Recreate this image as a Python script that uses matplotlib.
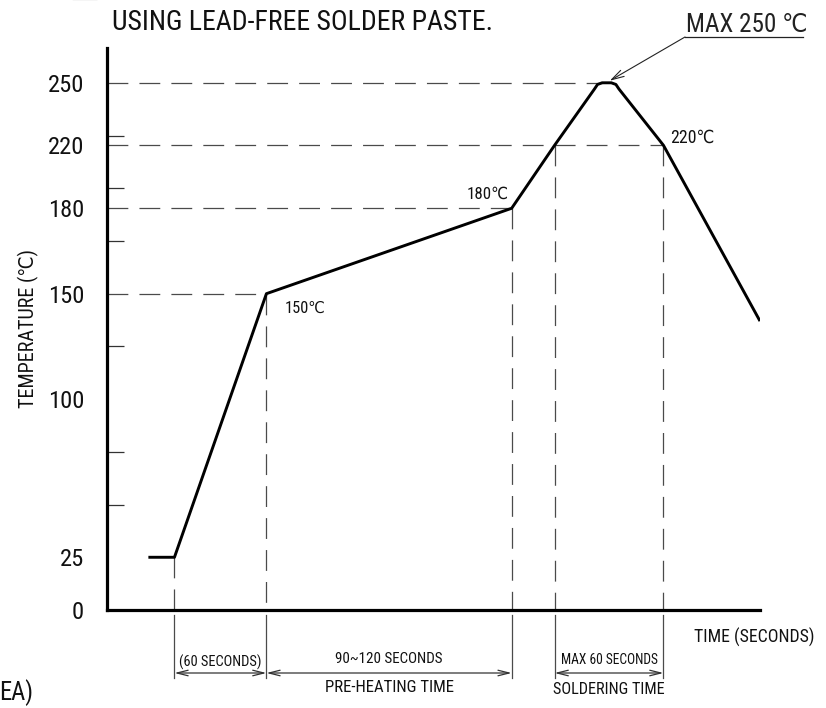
import numpy as np
import matplotlib
matplotlib.use("Agg")
import matplotlib.pyplot as plt
from matplotlib import font_manager as fm
from matplotlib import transforms
from matplotlib.patches import FancyBboxPatch

# ---------------- data ----------------
time_s = [27, 44, 104, 264, 292, 318, 320, 323, 329, 332, 334, 363, 426]
temp_c = [25, 25, 150, 180, 220, 247, 249.2, 250, 250, 249.2, 247, 220, 137]
ytick_values = [0, 25, 100, 150, 180, 220, 250]
ytick_labels = ["0", "25", "100", "150", "180", "220", "250"]
point_labels = ["150℃", "180℃", "220℃"]
title_text = "USING LEAD-FREE SOLDER PASTE."
peak_text = "MAX 250 ℃"
ylabel_text = "TEMPERATURE (℃)"
xlabel_text = "TIME (SECONDS)"
span_top = ["(60 SECONDS)", "90~120 SECONDS", "MAX 60 SECONDS"]
span_bottom = ["PRE-HEATING TIME", "SOLDERING TIME"]

# indices of key profile points
I_RAMP, I_150, I_180, I_220UP, I_PEAK, I_220DN = 1, 2, 3, 4, 7, 11

# ---------------- fonts ----------------
avail = {f.name for f in fm.fontManager.ttflist}
narrow = None
for cand in ["Liberation Sans Narrow", "Roboto Condensed", "Open Sans Condensed"]:
    if cand in avail:
        narrow = cand
        break
FAMILY = [narrow, "DejaVu Sans"] if narrow else ["DejaVu Sans"]
plt.rcParams["font.family"] = FAMILY
plt.rcParams["font.stretch"] = "condensed"
plt.rcParams["lines.scale_dashes"] = False
GROW = 1.1  # compromise between reference width and (taller) reference glyph height

W, H = 826, 708
fig = plt.figure(figsize=(W / 100, H / 100), dpi=100)
AX_L, AX_R, AX_B, AX_T = 107, 760, 610, 48  # pixel frame (top-origin)
ax = fig.add_axes([AX_L / W, (H - AX_B) / H, (AX_R - AX_L) / W, (AX_B - AX_T) / H])

# schematic (non-linear) temperature scale of the drawing
T_ANCHOR = [-100, 0, 150, 180, 220, 250, 400]
P_ANCHOR = [-4, 0, 6, 7.62, 8.815, 10, 15.925]
fwd = lambda t: np.interp(t, T_ANCHOR, P_ANCHOR)
inv = lambda p: np.interp(p, P_ANCHOR, T_ANCHOR)
ax.set_yscale("function", functions=(fwd, inv))
ax.set_ylim(0, float(inv(10.66)))
ax.set_xlim(0, 426)

for s in ["top", "right"]:
    ax.spines[s].set_visible(False)
for s in ["left", "bottom"]:
    ax.spines[s].set_linewidth(2.3)
    ax.spines[s].set_color("black")
    ax.spines[s].set_capstyle("projecting")
ax.set_xticks([])
ax.set_yticks(ytick_values)
ax.set_yticklabels(ytick_labels)
ax.set_yticks(inv(np.arange(1, 10)), minor=True)
ax.tick_params(axis="y", which="major", length=0, pad=16.5, labelsize=17, labelcolor="#111")
ax.tick_params(axis="y", which="minor", direction="in", length=12, width=0.9, color="#333")
ax.yaxis.set_minor_formatter(plt.NullFormatter())

GRAY = "#4a4a4a"
DASH = (0, (15, 8))
# horizontal reference lines
for i in [I_150, I_180, I_220DN, I_PEAK]:
    ax.plot([0, time_s[i]], [temp_c[i], temp_c[i]], color=GRAY, lw=0.9, linestyle=DASH)
# vertical reference lines
VERT = [I_RAMP, I_150, I_180, I_220UP, I_220DN]
for i in VERT:
    ax.plot([time_s[i], time_s[i]], [temp_c[i], 0], color=GRAY, lw=0.9, linestyle=DASH)

# profile
ax.plot(time_s, temp_c, color="black", lw=2.1, solid_joinstyle="round", solid_capstyle="butt")

# ---- below-axis dimensioning ----
bt = transforms.blended_transform_factory(ax.transData, ax.transAxes)
ay = lambda px: (AX_B - px) / (AX_B - AX_T)
for i in VERT:
    ax.plot([time_s[i], time_s[i]], [ay(615), ay(678)], transform=bt, color=GRAY, lw=0.9, clip_on=False)

spans = [(I_RAMP, I_150), (I_150, I_180), (I_220UP, I_220DN)]
for (a, b) in spans:
    ax.annotate("", xy=(time_s[b], ay(673)), xycoords=bt, xytext=(time_s[a], ay(673)), textcoords=bt,
                arrowprops=dict(arrowstyle="<->,head_length=0.8,head_width=0.2", lw=0.9, color="#333",
                                shrinkA=0, shrinkB=0), annotation_clip=False)

texts = []  # (text obj, target width px, grow factor)
top_y = [662, 659, 660]
for (a, b), lab, yy, wt in zip(spans, span_top, top_y, [75, 98, 89]):
    t = ax.text((time_s[a] + time_s[b]) / 2, ay(yy), lab, transform=bt, ha="center", va="center",
                fontsize=9, color="#111", clip_on=False)
    texts.append((t, wt, GROW))
for (a, b), lab, yy, wt in zip([spans[1], spans[2]], span_bottom, [688, 690], [118, 102]):
    t = ax.text((time_s[a] + time_s[b]) / 2, ay(yy), lab, transform=bt, ha="center", va="center",
                fontsize=10, color="#111", clip_on=False)
    texts.append((t, wt, GROW))

t = fig.text(754 / W, (H - 637) / H, xlabel_text, ha="center", va="center", fontsize=11, color="#111")
texts.append((t, 114, 1.05))

# point labels
lab_specs = [(I_150, (18, -15), "left"), (I_180, (-3, 14), "right"), (I_220DN, (7, 8), "left")]
for (i, (dx, dy), ha), lab, wt in zip(lab_specs, point_labels, [37, 38, 40]):
    t = ax.annotate(lab, xy=(time_s[i], temp_c[i]), xytext=(dx * 0.72, dy * 0.72), textcoords="offset points",
                    ha=ha, va="center", fontsize=11, color="#111")
    texts.append((t, wt, GROW))

# title
t = fig.text(302 / W, (H - 22) / H, title_text, ha="center", va="center", fontsize=18, color="#111")
texts.append((t, 345, GROW))

# peak callout
t = fig.text(747 / W, (H - 32) / H, peak_text, ha="center", va="baseline", fontsize=16, color="#222")
texts.append((t, 111, GROW))
fig.add_artist(plt.Line2D([685 / W, 803 / W], [(H - 37) / H, (H - 37) / H], color="#222", lw=0.9))
ax.annotate("", xy=(time_s[I_PEAK] + 5, 251), xycoords="data", xytext=(685, H - 37), textcoords="figure pixels",
            arrowprops=dict(arrowstyle="->,head_length=0.9,head_width=0.25", lw=0.8, color="#222",
                            shrinkA=0, shrinkB=0), annotation_clip=False)

# y label
t = fig.text(28 / W, (H - 329) / H, ylabel_text, rotation=90, ha="center", va="center", fontsize=13, color="#111")
texts.append((t, -158, 1.0))

# cut-off fragments at the picture edges
t = fig.text(-1 / W, (H - 693) / H, "EA)", ha="left", va="center", fontsize=18, color="#111")
texts.append((t, 31, GROW))
fig.add_artist(FancyBboxPatch((68 / W, (H + 1) / H), 34 / W, 20 / H, boxstyle="round,pad=0,rounding_size=0.006",
                              transform=fig.transFigure, fill=False, lw=1.5, ec="#222"))

# fit text sizes to the reference widths
fig.canvas.draw()
r = fig.canvas.get_renderer()
for t, wt, g in texts:
    bb = t.get_window_extent(renderer=r)
    cur = bb.height if wt < 0 else bb.width
    t.set_fontsize(t.get_fontsize() * abs(wt) / cur * g)
lbl = [l for l in ax.get_yticklabels() if l.get_text() == "250"][0]
bb = lbl.get_window_extent(renderer=r)
ax.tick_params(axis="y", which="major", labelsize=17 * 33 / bb.width * GROW)

fig.savefig("out.png", dpi=100)
